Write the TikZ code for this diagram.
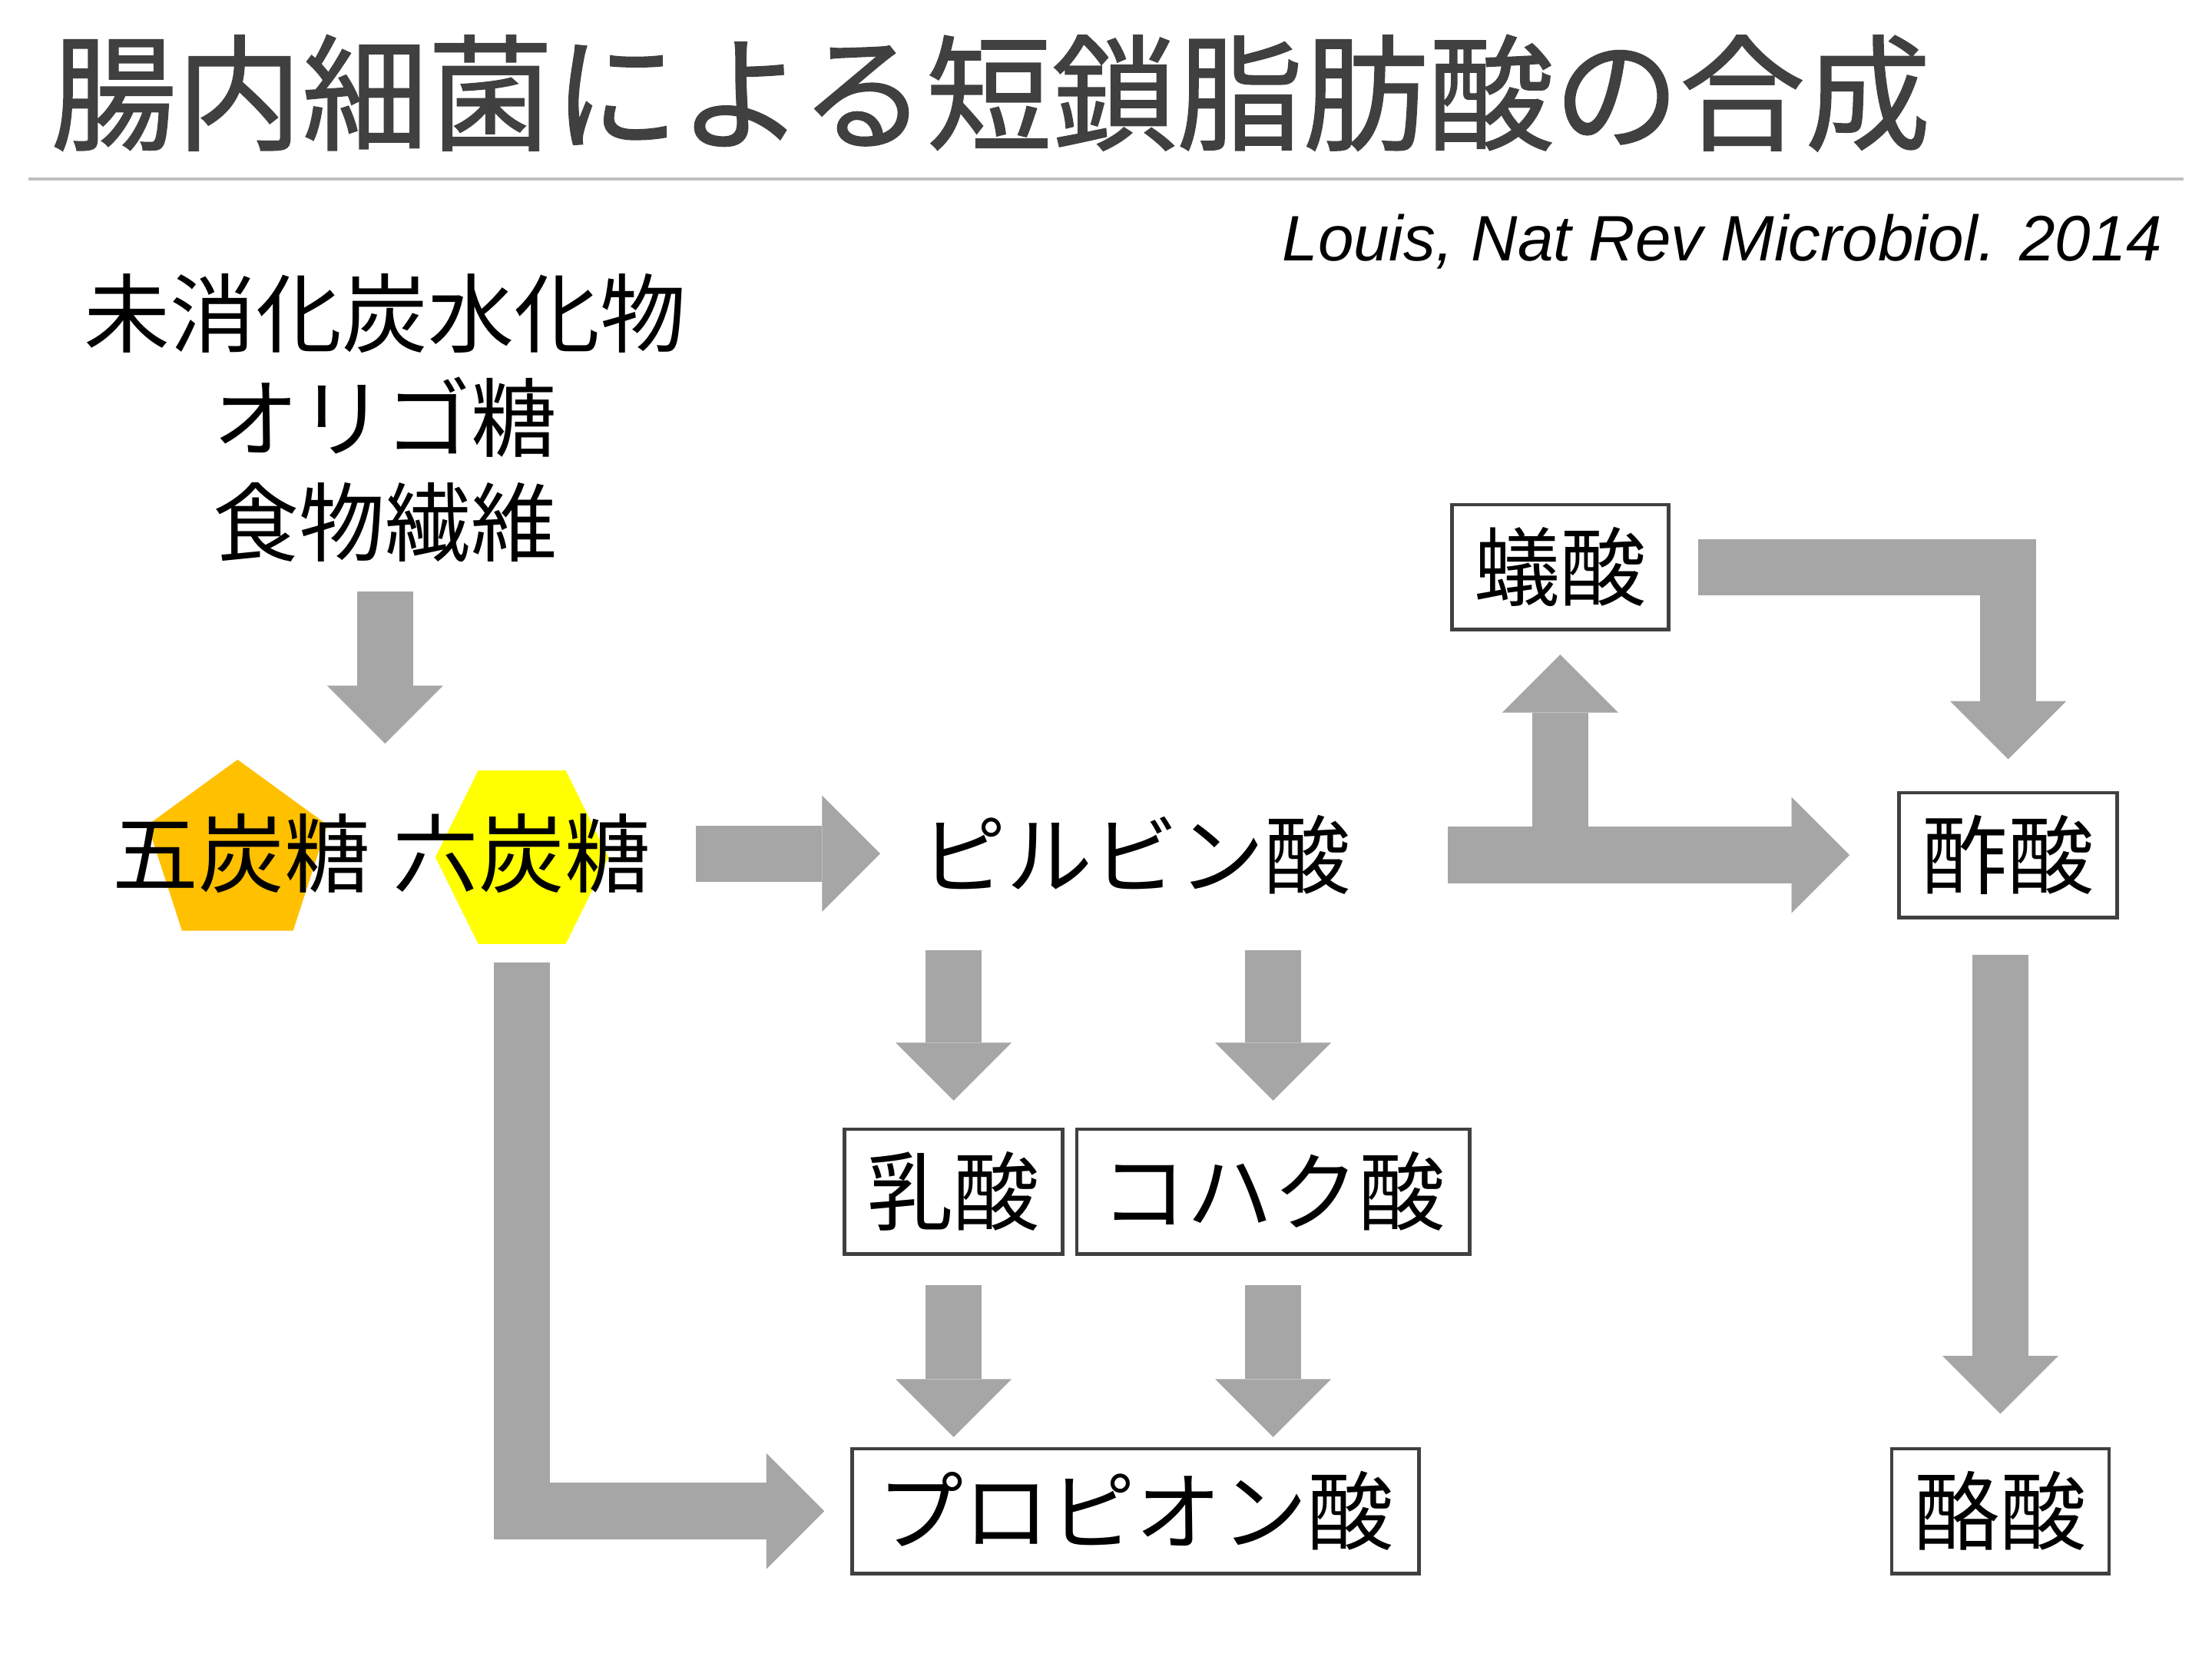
\documentclass[tikz,border=0pt]{standalone}
\usepackage{fontspec}
\newfontfamily\jpfont{Noto Sans CJK JP}
\newfontfamily\titlefont[FakeBold=1]{Noto Sans CJK JP}
\newfontfamily\citefont{Liberation Sans}
\usetikzlibrary{arrows.meta}

\definecolor{arrowgray}{HTML}{A6A6A6}
\definecolor{boxgray}{HTML}{404040}
\definecolor{titlegray}{HTML}{404040}
\definecolor{rulegray}{HTML}{BFBFBF}
\definecolor{pentcol}{HTML}{FFC000}
\definecolor{hexcol}{HTML}{FFFF00}

\newcommand{\jpbody}{\jpfont\fontsize{61}{74}\selectfont}

\tikzset{
  flow/.style={draw=arrowgray, line width=40pt,
    -{Triangle[length=41pt,width=82pt,line width=0.01pt]}},
  word/.style={inner sep=0pt, font=\jpbody, text height=53.7pt, text depth=7.3pt},
  acid/.style={draw=boxgray, line width=2.5pt, fill=white, inner sep=0pt,
    minimum height=88.5pt, font=\jpbody, text height=53.7pt, text depth=7.3pt}
}

\begin{document}
\begin{tikzpicture}[x=1pt, y=-1pt]
      \useasboundingbox (0,0) rectangle (1568,1176);

      \node[anchor=west, inner sep=0pt, text=titlegray,
        font=\titlefont\fontsize{89}{89}\selectfont] (title) at (36,66)
      {腸内細菌による短鎖脂肪酸の合成};
      \draw[rulegray, line width=2.2pt] (20,127) -- (1548,127);

      \node[anchor=base east, inner sep=0pt,
        font=\citefont\itshape\fontsize{45.5}{45.5}\selectfont] (cite) at (1533,185)
      {Louis, Nat Rev Microbiol. 2014};

      % sugar shapes
      \fill[pentcol] (168.4,538.4) -- (232.1,584.7) -- (207.8,659.6)
        -- (129,659.6) -- (104.7,584.7) -- cycle;
      \fill[hexcol] (339,546) -- (401,546) -- (431.4,607.5)
        -- (401,669) -- (339,669) -- (308.6,607.5) -- cycle;

      \node[inner sep=0pt, font=\jpbody, align=center] (carbs) at (273,296)
      {未消化炭水化物\\オリゴ糖\\食物繊維};
      \coordinate (sugtop) at (273,527);

      \node[word] (pentose) at (171,605) {五炭糖};
      \node[word] (hexose) at (370,605) {六炭糖};
      \node[word] (pyruvate) at (805,606) {ピルビン酸};

      \node[acid, minimum width=153.5pt] (formate) at (1106,402) {蟻酸};
      \node[acid, minimum width=154.5pt] (acetate) at (1423.5,606) {酢酸};
      \node[acid, minimum width=154.5pt] (lactate) at (676,844.5) {乳酸};
      \node[acid, minimum width=278.5pt] (succinate) at (902.5,844.5) {コハク酸};
      \node[acid, minimum width=402pt] (propionate) at (805,1071) {プロピオン酸};
      \node[acid, minimum width=154pt] (butyrate) at (1418,1071) {酪酸};

      \draw[flow, shorten <=21pt] (carbs.south) -- (sugtop);
      \draw[flow, shorten <=31.5pt, shorten >=28.5pt] (hexose.east) -- (hexose.east -| pyruvate.west);
      \draw[flow, shorten <=46.5pt, shorten >=18.5pt] (hexose.south) |- (propionate.west);

      \draw[flow, shorten <=68.5pt, shorten >=34pt] (pyruvate.east) -- (acetate.west);
      \draw[flow, shorten >=16.5pt] (formate.south |- acetate.west) -- (formate.south);
      \draw[flow, shorten <=20pt, shorten >=22.5pt] (formate.east) -| (acetate.north);
      \draw[flow, shorten <=25.5pt, shorten >=23.5pt] (butyrate.north |- acetate.south) -- (butyrate.north);

      \draw[flow, shorten <=36.5pt, shorten >=19pt] (lactate.north |- pyruvate.south) -- (lactate.north);
      \draw[flow, shorten <=36.5pt, shorten >=19pt] (succinate.north |- pyruvate.south) -- (succinate.north);
      \draw[flow, shorten <=21pt, shorten >=7pt] (lactate.south) -- (lactate.south |- propionate.north);
      \draw[flow, shorten <=21pt, shorten >=7pt] (succinate.south) -- (succinate.south |- propionate.north);
\end{tikzpicture}
\end{document}
